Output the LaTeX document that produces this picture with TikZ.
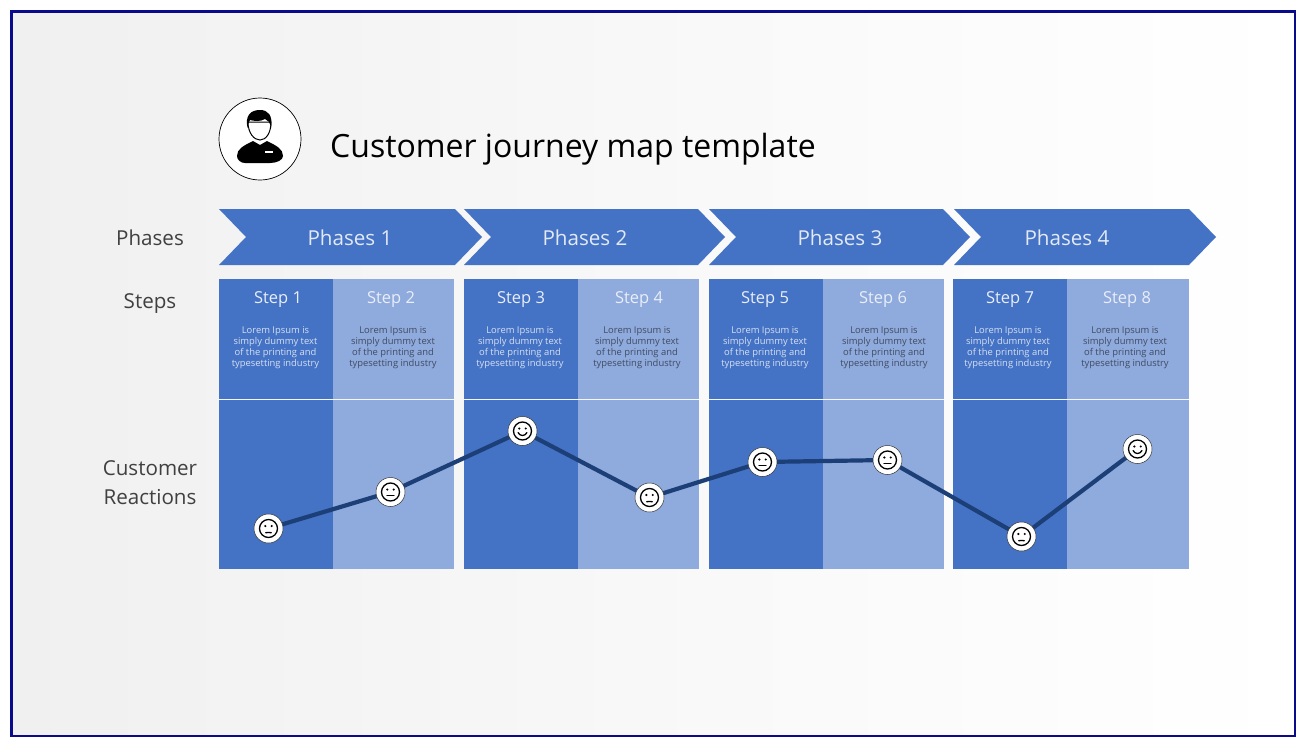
\documentclass[tikz,border=0pt]{standalone}
\usepackage{fontspec}
\setmainfont{Open Sans}
\definecolor{dk}{HTML}{4472C4}
\definecolor{lt}{HTML}{8FAADC}
\definecolor{ln}{HTML}{1C3F78}
\definecolor{frm}{HTML}{0A0A8C}
\definecolor{lab}{HTML}{404040}
\definecolor{bgl}{HTML}{F0F0F0}
\tikzset{
 x=1pt,y=-1pt,
 chev/.style={fill=dk,draw=none},
 coldk/.style={fill=dk,draw=none},
 collt/.style={fill=lt,draw=none},
 side/.style={text=lab,font=\fontsize{20.6}{29}\selectfont,align=center},
 phase/.style={text=white!85!dk,font=\fontsize{20.6}{24}\selectfont},
 stepdk/.style={text=white!88!dk,font=\fontsize{16.5}{20}\selectfont},
 steplt/.style={text=white!80!lt,font=\fontsize{16.5}{20}\selectfont},
 bodydk/.style={text=white!78!dk,font=\fontsize{9.4}{11}\selectfont,align=center},
 bodylt/.style={text=black!55!lt,font=\fontsize{9.4}{11}\selectfont,align=center},
 face/.style={circle,fill=white,draw=black!80,line width=.5pt,minimum size=29pt,inner sep=0pt},
 fl/.style={draw=black,line width=1.3pt,line cap=round},
}
% \facebase{name}{x}{y}{mouth kind: s smile, n neutral, f slight frown}
\newcommand{\facebase}[4]{%
 \node[face] (#1) at (#2,#3) {};
 \begin{scope}[shift={(#2,#3)}]
  \draw[fl] (0,0) circle (9);
  \fill (-3.2,-2.5) circle (1.2);
  \fill (3.2,-2.5) circle (1.2);
  \ifx#4s\draw[fl] (-4.5,1.5) .. controls (-2.5,5.5) and (2.5,5.5) .. (4.5,1.5);\fi
  \ifx#4n\draw[fl] (-3.5,3.5) -- (3.5,3.5);\fi
  \ifx#4f\draw[fl] (-2.8,4.2) .. controls (-1,3.9) and (1,3.9) .. (2.8,4.2);\fi
 \end{scope}}
\begin{document}
\begin{tikzpicture}
\useasboundingbox (0,0) rectangle (1307,747);
\fill[white] (0,0) rectangle (1307,747);
\shade[left color=bgl,right color=white,shading angle=90,middle color=bgl!45!white] (11.5,11.5) rectangle (1295,736);
\draw[frm,line width=2.4pt] (11.5,11.5) rectangle (1295,736);
% title block
\node[circle,fill=white,draw=black,line width=.7pt,minimum size=82pt,inner sep=0pt] (icon) at (260,139) {};
\fill[black] (237,156) .. controls (237,149) and (243,146) .. (253,141) -- (260,145) -- (267,141) .. controls (277,146) and (283,149) .. (283,156) .. controls (283,160) and (277,163) .. (270,163) -- (245,163) .. controls (241,163) and (237,160) .. (237,156) -- cycle;
\fill[white] (265,150.5) rectangle (273,152.5);
\draw[black,line width=1pt,fill=white] (248,122) .. controls (248,133) and (254,140) .. (260,140) .. controls (266,140) and (271,133) .. (271,122) -- cycle;
\fill[black] (247.5,128) .. controls (245,116) and (250,110) .. (260,110) .. controls (268,110) and (273,115) .. (271,128) .. controls (270,122) and (268,120) .. (265,119) .. controls (260,122) and (254,121) .. (250,120) .. controls (249,122) and (248,124) .. (247.5,128) -- cycle;
\node[anchor=west,text=black,font=\fontsize{32}{40}\selectfont,inner sep=0pt] (title) at (330,149) {Customer journey map template};
% side labels
\node[side] (lphases) at (150,238) {Phases};
\node[side] (lsteps) at (150,304) {Steps};
\node[side] (lreact) at (150,483) {Customer\\Reactions};
% chevrons
\fill[chev] (219,209) -- (455,209) -- (482,237) -- (455,265) -- (219,265) -- (246,237) -- cycle;
\fill[chev] (464,209) -- (698,209) -- (725,237) -- (698,265) -- (464,265) -- (491,237) -- cycle;
\fill[chev] (709,209) -- (943,209) -- (970,237) -- (943,265) -- (709,265) -- (736,237) -- cycle;
\fill[chev] (954,209) -- (1189,209) -- (1216,237) -- (1189,265) -- (954,265) -- (981,237) -- cycle;
\node[phase] (p1) at (350,238) {Phases 1};
\node[phase] (p2) at (585,238) {Phases 2};
\node[phase] (p3) at (840,238) {Phases 3};
\node[phase] (p4) at (1067,238) {Phases 4};
% columns
\fill[coldk] (219,279) rectangle (333,569);
\fill[collt] (333,279) rectangle (454,569);
\fill[coldk] (464,279) rectangle (578,569);
\fill[collt] (578,279) rectangle (699,569);
\fill[coldk] (709,279) rectangle (823,569);
\fill[collt] (823,279) rectangle (944,569);
\fill[coldk] (953,279) rectangle (1067,569);
\fill[collt] (1067,279) rectangle (1189,569);
\foreach \a/\b in {219/454,464/699,709/944,953/1189}{\draw[white!90!lt,line width=.8pt] (\a,399.5) -- (\b,399.5);}
% step titles
\node[stepdk] (s1) at (278,300) {Step 1};
\node[steplt] (s2) at (391,300) {Step 2};
\node[stepdk] (s3) at (521,300) {Step 3};
\node[steplt] (s4) at (639,300) {Step 4};
\node[stepdk] (s5) at (765,300) {Step 5};
\node[steplt] (s6) at (883,300) {Step 6};
\node[stepdk] (s7) at (1010,300) {Step 7};
\node[steplt] (s8) at (1127,300) {Step 8};
% body texts
\newcommand{\lorem}{Lorem Ipsum is\\simply dummy text\\of the printing and\\typesetting industry}
\node[bodydk] (t1) at (275.5,348) {\lorem};
\node[bodylt] (t2) at (393,348) {\lorem};
\node[bodydk] (t3) at (520,348) {\lorem};
\node[bodylt] (t4) at (637,348) {\lorem};
\node[bodydk] (t5) at (765,348) {\lorem};
\node[bodylt] (t6) at (884,348) {\lorem};
\node[bodydk] (t7) at (1008,348) {\lorem};
\node[bodylt] (t8) at (1125,348) {\lorem};
% reaction faces and the line joining them
\begin{scope}
\coordinate (c1) at (268.5,528.5);
\coordinate (c2) at (390.5,492);
\coordinate (c3) at (522.5,431);
\coordinate (c4) at (649.5,497.5);
\coordinate (c5) at (762.5,462);
\coordinate (c6) at (887.5,460);
\coordinate (c7) at (1021.5,536.5);
\coordinate (c8) at (1137.5,449);
\draw[ln,line width=4.2pt,line join=round] (c1) -- (c2) -- (c3) -- (c4) -- (c5) -- (c6) -- (c7) -- (c8);
\end{scope}
\facebase{f1}{268.5}{528.5}{f}
\facebase{f2}{390.5}{492}{n}
\facebase{f3}{522.5}{431}{s}
\facebase{f4}{649.5}{497.5}{f}
\facebase{f5}{762.5}{462}{n}
\facebase{f6}{887.5}{460}{n}
\facebase{f7}{1021.5}{536.5}{f}
\facebase{f8}{1137.5}{449}{s}
\end{tikzpicture}
\end{document}
